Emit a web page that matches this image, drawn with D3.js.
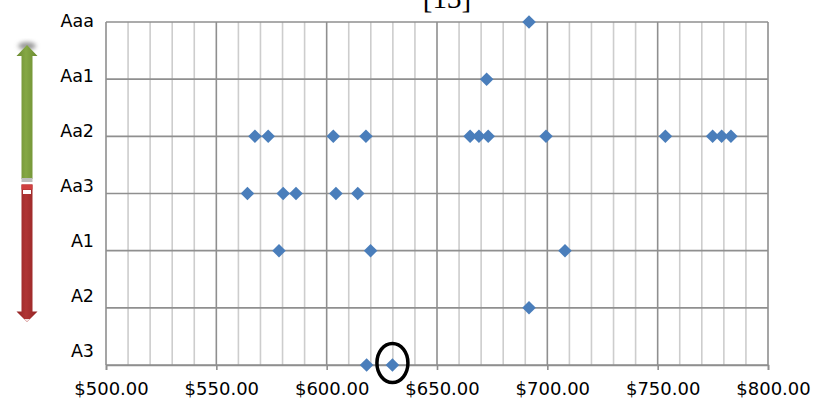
<!DOCTYPE html>
<html>
<head>
<meta charset="utf-8">
<script src="https://cdn.jsdelivr.net/npm/d3@7"></script>
<style>
  html, body { margin: 0; padding: 0; background: #fff; }
  svg { display: block; }
  .lab { font-family: "DejaVu Sans", sans-serif; fill: #000; }
</style>
</head>
<body>
<svg id="chart" width="822" height="398"></svg>
<script>
// Rating scale, top (best) to bottom
const ratings = ["Aaa", "Aa1", "Aa2", "Aa3", "A1", "A2", "A3"];

// Price observations per rating
const pricesAaa = [691.7];
const pricesAa1 = [672.5];
const pricesAa2 = [567.5, 573.5, 603.0, 617.8, 665.0, 669.0, 673.2, 699.4, 753.5, 774.9, 779.0, 783.2];
const pricesAa3 = [564.1, 580.3, 586.1, 604.2, 614.1];
const pricesA1  = [578.4, 619.9, 708.0];
const pricesA2  = [691.7];
const pricesA3  = [618.1, 629.8];

// The circled observation
const highlightRating = "A3";
const highlightPrice = 629.8;

// Price axis
const xDomain = [500, 800];
const xMajorTicks = [500, 550, 600, 650, 700, 750, 800];
const xMinorStep = 10;

const title = "[13]";

const seriesByRating = [pricesAaa, pricesAa1, pricesAa2, pricesAa3, pricesA1, pricesA2, pricesA3];
const points = [];
ratings.forEach((r, i) => seriesByRating[i].forEach(p => points.push({ rating: r, price: p })));

const svg = d3.select("#chart");
const plot = { left: 106, right: 768, top: 22, bottom: 365 };

const x = d3.scaleLinear().domain(xDomain).range([plot.left, plot.right]);
const y = d3.scalePoint().domain(ratings).range([plot.top, plot.bottom]);
// category labels sit on a slightly tighter spacing than the gridlines
const yLab = d3.scalePoint().domain(ratings).range([20.5, 350.5]);

const minorTicks = d3.range(xDomain[0] + xMinorStep, xDomain[1], xMinorStep).filter(v => v % 50 !== 0);

// Minor vertical gridlines
svg.append("g").selectAll("line").data(minorTicks).join("line")
  .attr("x1", d => x(d)).attr("x2", d => x(d))
  .attr("y1", plot.top).attr("y2", plot.bottom)
  .attr("stroke", "#cdcdcd").attr("stroke-width", 1.6);

// Major vertical gridlines
svg.append("g").selectAll("line").data(xMajorTicks).join("line")
  .attr("x1", d => x(d)).attr("x2", d => x(d))
  .attr("y1", plot.top).attr("y2", plot.bottom)
  .attr("stroke", "#8f8f8f").attr("stroke-width", 1.6);

// Horizontal gridlines at each rating
svg.append("g").selectAll("line").data(ratings).join("line")
  .attr("x1", plot.left).attr("x2", plot.right)
  .attr("y1", d => y(d)).attr("y2", d => y(d))
  .attr("stroke", "#8f8f8f").attr("stroke-width", 1.6);

// Bottom price axis with major ticks
const xAxis = d3.axisBottom(x).tickValues(xMajorTicks).tickSize(5)
  .tickFormat(d => "$" + d3.format(".2f")(d));
const gx = svg.append("g").attr("transform", `translate(0,${plot.bottom})`).call(xAxis);
gx.select(".domain").attr("stroke", "#8f8f8f").attr("stroke-width", 1.6);
gx.selectAll(".tick line").attr("stroke", "#8f8f8f").attr("stroke-width", 1.6);
gx.selectAll(".tick text")
  .attr("class", "lab")
  .attr("y", 0).attr("dy", 0)
  .attr("transform", "translate(5,30)")
  .style("font-size", "18px");

// Rating labels
svg.append("g").selectAll("text").data(ratings).join("text")
  .attr("class", "lab")
  .attr("x", 94).attr("y", d => yLab(d))
  .attr("text-anchor", "end").attr("dominant-baseline", "central")
  .style("font-size", "17.5px")
  .text(d => d);

// Observations as diamonds
const diamond = d3.symbol().type(d3.symbolSquare).size(92);
svg.append("g").selectAll("path").data(points).join("path")
  .attr("d", diamond)
  .attr("transform", d => `translate(${x(d.price)},${y(d.rating)}) rotate(45)`)
  .attr("fill", "#4a7ebb");

// Circle around the highlighted observation
svg.append("ellipse")
  .attr("cx", x(highlightPrice)).attr("cy", y(highlightRating) - 2)
  .attr("rx", 15.5).attr("ry", 19.5)
  .attr("fill", "none").attr("stroke", "#000").attr("stroke-width", 3.5);

// Title, mostly above the top edge
svg.append("text")
  .attr("x", 447).attr("y", 8)
  .attr("text-anchor", "middle")
  .style("font-family", "'Liberation Serif', serif")
  .style("font-size", "29px")
  .text(title);

// Up/down quality arrows on the left
const defs = svg.append("defs");
const gGreen = defs.append("linearGradient").attr("id", "gGreen").attr("x1", 0).attr("x2", 1);
gGreen.append("stop").attr("offset", 0).attr("stop-color", "#6b8a30");
gGreen.append("stop").attr("offset", 0.45).attr("stop-color", "#85a844");
gGreen.append("stop").attr("offset", 1).attr("stop-color", "#6b8a30");
const gRed = defs.append("linearGradient").attr("id", "gRed").attr("x1", 0).attr("x2", 1);
gRed.append("stop").attr("offset", 0).attr("stop-color", "#922424");
gRed.append("stop").attr("offset", 0.45).attr("stop-color", "#b03434");
gRed.append("stop").attr("offset", 1).attr("stop-color", "#922424");
defs.append("filter").attr("id", "glow").attr("x", "-50%").attr("y", "-50%").attr("width", "200%").attr("height", "200%")
  .append("feGaussianBlur").attr("stdDeviation", 2.2);

const ax = 27;
// grey glow at the upper tip
svg.append("ellipse").attr("cx", ax).attr("cy", 46).attr("rx", 9).attr("ry", 4)
  .attr("fill", "#9a9a9a").attr("filter", "url(#glow)");
// green up arrow
svg.append("path")
  .attr("d", `M${ax},45 L${ax + 10.5},56 L${ax + 5.5},56 L${ax + 5.5},179 L${ax - 5.5},179 L${ax - 5.5},56 L${ax - 10.5},56 Z`)
  .attr("fill", "url(#gGreen)");
svg.append("rect").attr("x", ax - 5.5).attr("y", 178).attr("width", 11).attr("height", 4).attr("fill", "#bdbdbd");
// red down arrow
svg.append("path")
  .attr("d", `M${ax - 5.5},184.5 L${ax + 5.5},184.5 L${ax + 5.5},311.5 L${ax + 10.5},311.5 L${ax},322 L${ax - 10.5},311.5 L${ax - 5.5},311.5 Z`)
  .attr("fill", "url(#gRed)");
svg.append("rect").attr("x", ax - 5.5).attr("y", 184.5).attr("width", 11).attr("height", 5).attr("fill", "#d04040");
svg.append("rect").attr("x", ax - 4).attr("y", 190).attr("width", 8).attr("height", 4).attr("fill", "#ffffff");
svg.append("path")
  .attr("d", `M${ax - 3},319 L${ax + 3},319 L${ax},322 Z`).attr("fill", "#f4dede");
</script>
</body>
</html>
